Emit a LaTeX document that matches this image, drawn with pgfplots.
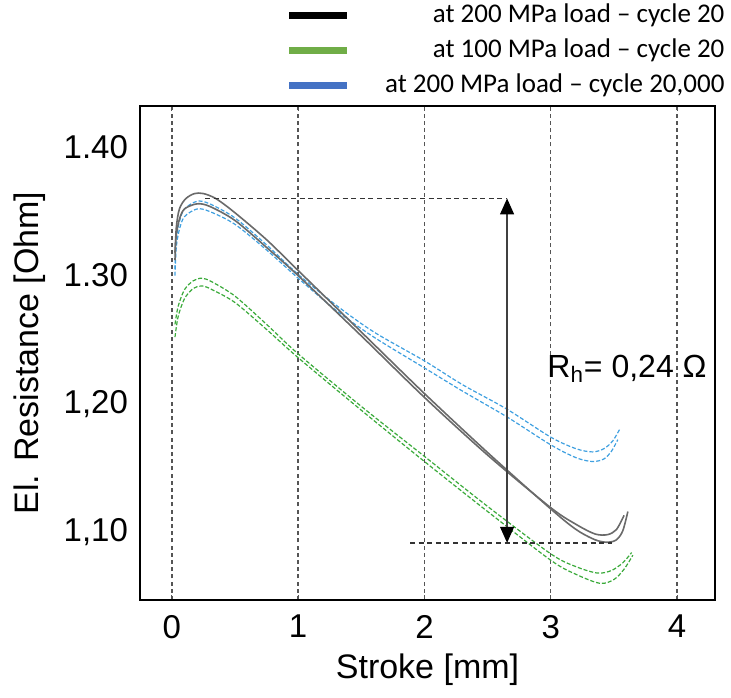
\documentclass[border=0pt]{standalone}
\usepackage{fontspec}
\setmainfont{Liberation Sans}
\newfontfamily\legfont{Carlito}
\usepackage{pgfplots}
\pgfplotsset{compat=1.18}
\usetikzlibrary{arrows.meta}
\definecolor{curvegray}{HTML}{6A6A6A}
\definecolor{curveblue}{HTML}{3FA0E0}
\definecolor{curvegreen}{HTML}{3AAA3A}
\definecolor{legblue}{HTML}{4472C4}
\definecolor{leggreen}{HTML}{70AD47}
\definecolor{gridgray}{HTML}{555555}
\begin{document}
\begin{tikzpicture}
\begin{axis}[
  at={(0,0)}, anchor=south west,
  scale only axis, width=287.5pt, height=247pt,
  xmin=-0.252, xmax=4.30, ymin=1.047, ymax=1.4323,
  xtick={0,1,2,3,4},
  ytick={1.1,1.2,1.3,1.4},
  yticklabels={{1,10},{1,20},{1.30},{1.40}},
  /pgf/number format/assume math mode=true,
  tick label style={font=\fontsize{16.5}{18}\selectfont},
  xticklabel style={yshift=-4pt},
  yticklabel style={xshift=-2.5pt},
  label style={font=\fontsize{17}{19}\selectfont},
  xlabel={Stroke [mm]},
  ylabel={El. Resistance [Ohm]},
  xlabel style={at={(rel axis cs:0.5,-0.142)}, anchor=center},
  ylabel style={at={(rel axis cs:-0.191,0.5)}, anchor=center},
  axis line style={line width=1pt},
  xmajorgrids,
  grid style={gridgray, line width=0.7pt, dash pattern=on 2pt off 1.6pt},
  tick align=inside,
  major tick length=2.5pt,
  xtick style={gridgray, line width=0.5pt},
  ytick style={draw=none},
  legend style={draw=none, fill=none, at={(rel axis cs:1.031,1.223)}, anchor=north east,
    font=\legfont\fontsize{13.5}{15}\selectfont,
    nodes={inner sep=1pt, text height=10pt, text depth=3pt},
    row sep=2.5pt},
  legend cell align=right,
  legend image code/.code={\draw[#1] (0pt,0pt) -- (29pt,0pt); \path[draw=none] (0pt,0pt) -- (47pt,0pt);},
]
\addlegendimage{black, line width=3.3pt}
\addlegendentry{at 200 MPa load – cycle 20}
\addlegendimage{leggreen, line width=3.3pt}
\addlegendentry{at 100 MPa load – cycle 20}
\addlegendimage{legblue, line width=3.3pt}
\addlegendentry{at 200 MPa load – cycle 20,000}

% blue dashed (200 MPa, cycle 20,000)
\addplot[forget plot, curveblue, line width=0.6pt, dash pattern=on 2pt off 1pt, smooth, tension=0.5] coordinates {
(0.025,1.305) (0.035,1.328) (0.06,1.342) (0.1,1.352) (0.2,1.358) (0.3,1.356) (0.5,1.345) (0.75,1.324) (1.0,1.301)
(1.3,1.277) (1.6,1.256) (2.0,1.2335) (2.3,1.215) (2.65,1.196) (3.0,1.174) (3.2,1.165) (3.33,1.1625) (3.42,1.165) (3.49,1.171) (3.55,1.181)};
\addplot[forget plot, curveblue, line width=0.6pt, dash pattern=on 2pt off 1pt, smooth, tension=0.5] coordinates {
(0.025,1.300) (0.035,1.322) (0.06,1.336) (0.1,1.346) (0.2,1.352) (0.3,1.350) (0.5,1.340) (0.75,1.320) (1.0,1.298)
(1.3,1.273) (1.6,1.252) (2.0,1.228) (2.3,1.210) (2.65,1.190) (3.0,1.168) (3.2,1.158) (3.33,1.155) (3.42,1.157) (3.48,1.163) (3.53,1.172)};

% green dashed (100 MPa, cycle 20)
\addplot[forget plot, curvegreen, line width=0.6pt, dash pattern=on 2pt off 1pt, smooth, tension=0.5] coordinates {
(0.025,1.262) (0.05,1.276) (0.1,1.289) (0.17,1.296) (0.24,1.298) (0.32,1.295) (0.5,1.284) (0.75,1.262) (1.0,1.239)
(1.5,1.198) (2.0,1.159) (2.5,1.120) (3.0,1.083) (3.2,1.073) (3.37,1.068) (3.48,1.070) (3.57,1.076) (3.64,1.084)};
\addplot[forget plot, curvegreen, line width=0.6pt, dash pattern=on 2pt off 1pt, smooth, tension=0.5] coordinates {
(0.025,1.252) (0.05,1.268) (0.1,1.282) (0.17,1.290) (0.24,1.292) (0.32,1.289) (0.5,1.279) (0.75,1.258) (1.0,1.236)
(1.5,1.195) (2.0,1.155) (2.5,1.116) (3.0,1.078) (3.2,1.067) (3.39,1.060) (3.5,1.063) (3.58,1.071) (3.65,1.082)};

% black/gray solid (200 MPa, cycle 20)
\addplot[forget plot, curvegray, line width=0.8pt, smooth, tension=0.5] coordinates {
(0.025,1.312) (0.035,1.337) (0.06,1.352) (0.11,1.360) (0.18,1.364) (0.25,1.364) (0.35,1.360) (0.5,1.349) (0.75,1.328) (1.0,1.304)
(1.5,1.256) (2.0,1.208) (2.5,1.162) (3.0,1.118) (3.2,1.102) (3.35,1.094) (3.45,1.092) (3.52,1.094) (3.57,1.101) (3.61,1.116)};
\addplot[forget plot, curvegray, line width=0.8pt, smooth, tension=0.5] coordinates {
(0.025,1.318) (0.035,1.332) (0.06,1.344) (0.1,1.352) (0.2,1.356) (0.3,1.354) (0.5,1.343) (0.75,1.322) (1.0,1.300)
(1.5,1.253) (2.0,1.205) (2.5,1.160) (3.0,1.119) (3.2,1.106) (3.35,1.0985) (3.45,1.098) (3.52,1.102) (3.58,1.113)};

% annotation
\draw[black!80, line width=0.8pt, dash pattern=on 2.5pt off 1.8pt] (axis cs:0.263,1.3602) -- (axis cs:2.654,1.3602);
\draw[black!80, line width=0.8pt, dash pattern=on 2.5pt off 1.8pt] (axis cs:1.886,1.0916) -- (axis cs:3.486,1.0916);
\draw[black!75, line width=0.6pt, {Triangle[width=7pt,length=8pt,fill=black,color=black]}-{Triangle[width=7pt,length=8pt,fill=black,color=black]}] (axis cs:2.654,1.3602) -- (axis cs:2.654,1.0916);
\node[anchor=west, font=\fontsize{16}{18}\selectfont, inner sep=0pt] at (axis cs:2.97,1.227) {R\textsubscript{h}= 0,24 Ω};
\end{axis}
\pgfresetboundingbox
\path (-70pt,-48.5pt) rectangle (295.5pt,300pt);
\end{tikzpicture}
\end{document}
